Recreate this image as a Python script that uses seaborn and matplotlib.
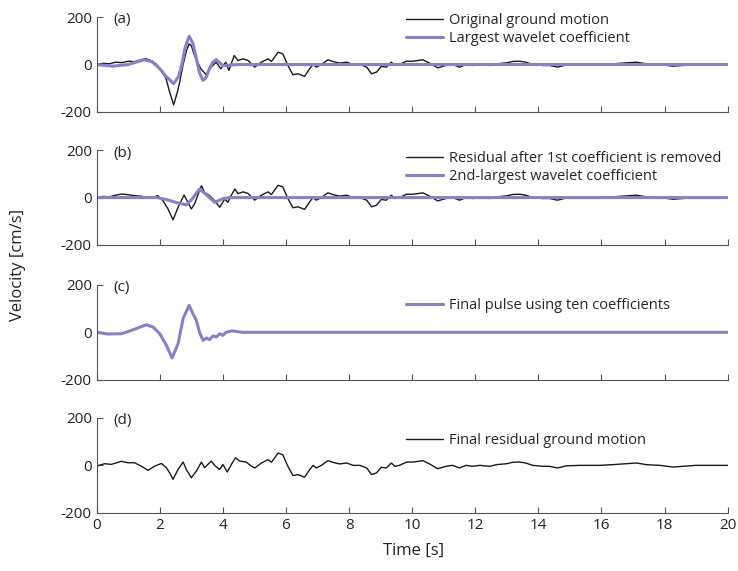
import numpy as np
import pandas as pd
import matplotlib
matplotlib.use("Agg")
import matplotlib.pyplot as plt
import seaborn as sns

# --- data (time in s, velocity in cm/s) ---
# shared late part of the record (pulse is ~0 here, so panels a, b, d match)
tail_t = [5.01, 5.22, 5.43, 5.54, 5.75, 5.9, 6.06, 6.22, 6.38, 6.59, 6.75, 6.86, 6.96,
          7.12, 7.33, 7.48, 7.7, 7.92, 8.13, 8.34, 8.56, 8.71, 8.87, 9.02, 9.18, 9.34,
          9.45, 9.6, 9.82, 10.03, 10.34, 10.55, 10.81, 11.07, 11.28, 11.5, 11.71, 11.92,
          12.14, 12.46, 12.67, 12.99, 13.19, 13.4, 13.6, 13.82, 14.14, 14.35, 14.61,
          14.88, 15.3, 15.62, 15.94, 16.36, 16.78, 17.11, 17.42, 17.85, 18.27, 18.58,
          19.0, 19.5, 20.0]
tail_v = [-11, 10, 24, 13, 52, 45, -4, -43, -39, -50, -18, 0, -11,
          0, 20, 13, 6, 10, 0, 0, -11, -39, -32, -8, -11, 10,
          -4, 0, 14, 14, 20, 6, -14, -4, 0, -11, 0, -4,
          0, -4, 3, 7, 13, 14, 10, 0, -4, -4, -11,
          -2, 0, 0, 0, 3, 7, 10, 3, 0, -7, -4,
          0, 0, 0]

orig_t = [0, 0.2, 0.4, 0.6, 0.8, 1.0, 1.2, 1.4, 1.55, 1.75, 1.9, 2.05, 2.2, 2.32, 2.44,
          2.55, 2.63, 2.74, 2.85, 2.93, 3.0, 3.1, 3.2, 3.3, 3.47, 3.63, 3.79, 3.93, 4.09,
          4.19, 4.36, 4.48, 4.64, 4.8]
orig_v = [0, 5, 3, 10, 8, 14, 12, 20, 25, 15, 0, -25, -60, -120, -170,
          -120, -75, 0, 60, 87, 80, 38, 10, -18, -43, -11, 10, -18, 10,
          -25, 38, 17, 24, 17]

coef1_t = [0, 0.5, 1.0, 1.5, 1.75, 2.0, 2.2, 2.44, 2.6, 2.7, 2.8, 2.93, 3.05, 3.15, 3.26,
           3.37, 3.47, 3.57, 3.68, 3.79, 3.9, 4.0, 4.2, 4.5, 20]
coef1_v = [0, -7, 0, 20, 12, -18, -50, -81, -50, 0, 70, 119, 90, 30, -35,
           -67, -55, -18, 10, 21, 8, -5, -2, 0, 0]

resid1_t = [0, 0.2, 0.4, 0.6, 0.8, 1.0, 1.2, 1.4, 1.6, 1.8, 1.94, 2.1, 2.26, 2.42, 2.58,
            2.77, 2.89, 3.0, 3.1, 3.32, 3.42, 3.58, 3.74, 3.9, 4.06, 4.16, 4.27, 4.38,
            4.48, 4.64, 4.8]
resid1_v = [0, 5, 3, 10, 15, 12, 8, 6, 0, 2, 8, -13, -48, -94, -41,
            11, -20, -48, -27, 50, 22, 8, -13, -41, -6, -20, 10, 36,
            17, 24, 17]

coef2_t = [0, 1.9, 2.2, 2.5, 2.84, 3.0, 3.26, 3.45, 3.74, 4.0, 4.2, 20]
coef2_v = [0, 0, -8, -20, -31, -10, 36, 15, -20, -5, 0, 0]

pulse_t = [0, 0.36, 0.78, 1.1, 1.37, 1.58, 1.79, 2.0, 2.21, 2.39, 2.58, 2.74, 2.93, 3.05,
           3.16, 3.26, 3.37, 3.48, 3.58, 3.69, 3.79, 3.9, 4.0, 4.1, 4.27, 4.43, 4.6, 4.8, 20]
pulse_v = [0, -7, -6, 8, 22, 32, 22, -6, -55, -108, -48, 58, 114, 79,
           50, 0, -34, -24, -31, -15, -20, -6, -13, 0, 6, 4, 0, 0, 0]

final_t = [0, 0.25, 0.46, 0.78, 0.99, 1.2, 1.41, 1.63, 1.84, 2.05, 2.21, 2.31, 2.42, 2.58,
           2.74, 2.84, 3.0, 3.16, 3.32, 3.42, 3.63, 3.76, 3.9, 4.0, 4.14, 4.27, 4.4, 4.53,
           4.74, 4.9]
final_v = [-3, 7, 4, 17, 11, 11, -3, -21, -3, 8, -10, -31, -59, -17,
           14, -17, -52, -24, 14, -10, 18, -3, -17, 4, -28, 4, 32, 18,
           14, -3]

panel_tags = ["(a)", "(b)", "(c)", "(d)"]
x_ticks = list(range(0, 21, 2))
y_ticks = [-200, 0, 200]

BLACK = "#1a1a1a"
PURPLE = "#8a7fca"


def frame(t, v, name):
    return pd.DataFrame({"t": t, "v": v, "s": name})


panels = [
    [(frame(orig_t + tail_t, orig_v + tail_v, "Original ground motion"), BLACK, 1.0),
     (frame(coef1_t, coef1_v, "Largest wavelet coefficient"), PURPLE, 2.2)],
    [(frame(resid1_t + tail_t, resid1_v + tail_v, "Residual after 1st coefficient is removed"), BLACK, 1.0),
     (frame(coef2_t, coef2_v, "2nd-largest wavelet coefficient"), PURPLE, 2.2)],
    [(frame(pulse_t, pulse_v, "Final pulse using ten coefficients"), PURPLE, 2.2)],
    [(frame(final_t + tail_t, final_v + tail_v, "Final residual ground motion"), BLACK, 1.0)],
]
legend_y = [1.12, 1.07, 0.94, 0.92]

sns.set_style("ticks")
plt.rcParams["font.family"] = ["Open Sans", "DejaVu Sans"]
plt.rcParams["axes.unicode_minus"] = False

fig = plt.figure(figsize=(7.38, 5.71), dpi=100)
bottoms = [0.804, 0.571, 0.335, 0.102]
height = 0.166

for i, lines in enumerate(panels):
    ax = fig.add_axes([0.131, bottoms[i], 0.855, height])
    for df, col, lw in lines:
        sns.lineplot(data=df, x="t", y="v", color=col, lw=lw, label=df["s"][0],
                     ax=ax, estimator=None, sort=False)
    ax.set_xlim(0, 20)
    ax.set_ylim(-200, 200)
    ax.set_xticks(x_ticks)
    ax.set_yticks(y_ticks)
    ax.set_xlabel("")
    ax.set_ylabel("")
    ax.tick_params(direction="in", length=4, width=0.8, color="#555555",
                   labelsize=11, labelcolor="#222222")
    if i < 3:
        ax.tick_params(axis="x", labelbottom=False)
    for side in ["top", "right"]:
        ax.spines[side].set_visible(False)
    for side in ["left", "bottom"]:
        ax.spines[side].set_color("#555555")
        ax.spines[side].set_linewidth(0.8)
    ax.text(0.027, 0.97, panel_tags[i], transform=ax.transAxes, fontsize=11,
            ha="left", va="center", color="#222222")
    ax.legend(loc="upper left", bbox_to_anchor=(0.478, legend_y[i]), frameon=False,
              fontsize=10.5, handlelength=2.6, handletextpad=0.4, borderpad=0,
              labelspacing=0.2)

fig.text(0.025, 0.536, "Velocity [cm/s]", rotation=90, ha="center", va="center",
         fontsize=12, color="#222222")
fig.text(0.56, 0.035, "Time [s]", ha="center", va="center", fontsize=12, color="#222222")

fig.savefig("out.png", dpi=100)
